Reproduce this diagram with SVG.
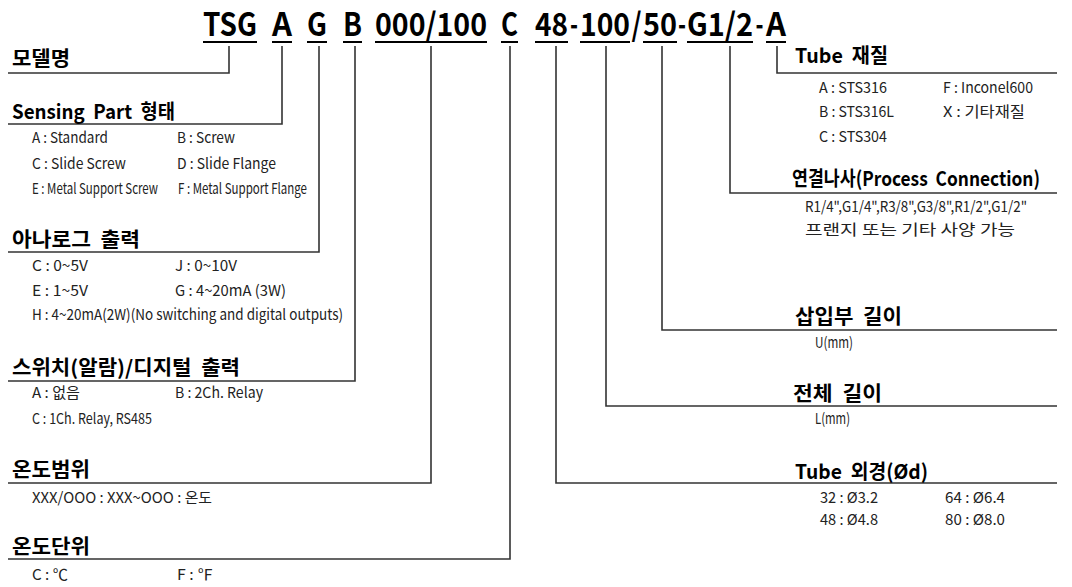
<svg xmlns="http://www.w3.org/2000/svg" width="1072" height="587" viewBox="0 0 1072 587" xml:space="preserve">
<style>
.t{font-family:"Noto Sans CJK KR","Noto Sans",sans-serif;font-weight:bold;font-size:32px;fill:#000}
.m{text-anchor:middle}
.h{font-family:"Noto Sans CJK KR","Noto Sans",sans-serif;font-weight:bold;font-size:20px;fill:#000;white-space:pre}
.i{font-family:"Noto Sans CJK KR","Noto Sans",sans-serif;font-size:15px;fill:#222}
.u{stroke:#000;stroke-width:2;fill:none}
.c{stroke:#333;stroke-width:1.6;fill:none}
</style>
<rect width="1072" height="587" fill="#fff"/>
<g id="code">
<text class="t" x="203" y="36" textLength="54" lengthAdjust="spacingAndGlyphs">TSG</text>
<text class="t" x="272" y="36" textLength="20" lengthAdjust="spacingAndGlyphs">A</text>
<text class="t" x="307" y="36" textLength="20" lengthAdjust="spacingAndGlyphs">G</text>
<text class="t" x="343" y="36" textLength="19" lengthAdjust="spacingAndGlyphs">B</text>
<text class="t" x="375" y="36" textLength="112" lengthAdjust="spacingAndGlyphs">000/100</text>
<text class="t" x="501" y="36" textLength="17" lengthAdjust="spacingAndGlyphs">C</text>
<text class="t" x="535" y="36" textLength="33" lengthAdjust="spacingAndGlyphs">48</text>
<text class="t" x="570" y="36" textLength="8" lengthAdjust="spacingAndGlyphs">-</text>
<text class="t" x="580" y="36" textLength="50" lengthAdjust="spacingAndGlyphs">100</text>
<text class="t" x="631.5" y="36" textLength="10" lengthAdjust="spacingAndGlyphs">/</text>
<text class="t" x="643" y="36" textLength="34" lengthAdjust="spacingAndGlyphs">50</text>
<text class="t" x="678" y="36" textLength="8" lengthAdjust="spacingAndGlyphs">-</text>
<text class="t" x="687" y="36" textLength="66" lengthAdjust="spacingAndGlyphs">G1/2</text>
<text class="t" x="755.5" y="36" textLength="8" lengthAdjust="spacingAndGlyphs">-</text>
<text class="t" x="766" y="36" textLength="20" lengthAdjust="spacingAndGlyphs">A</text>
<path class="u" d="M203 42H257M272 42H292M307 42H327M343 42H362M375 42H487M501 42H518M535 42H568M580 42H630M643 42H677M687 42H753M766 42H786"/>
</g>
<g id="connectors">
<path class="c" d="M229 46V73H8"/>
<path class="c" d="M282 46V124H8"/>
<path class="c" d="M319 46V252H8"/>
<path class="c" d="M355 46V381H8"/>
<path class="c" d="M431 46V483H8"/>
<path class="c" d="M510 46V559H8"/>
<path class="c" d="M556 46V483H1057"/>
<path class="c" d="M606 46V406H1057"/>
<path class="c" d="M662 46V330H1057"/>
<path class="c" d="M730 46V193H1057"/>
<path class="c" d="M777 46V73H1057"/>
</g>
<g id="model-name">
<text class="h" x="12" y="66" textLength="58" lengthAdjust="spacingAndGlyphs">모델명</text>
</g>
<g id="sensing-part">
<text class="h" x="12" y="119" textLength="163" lengthAdjust="spacingAndGlyphs">Sensing  Part  형태</text>
<text class="i" x="32" y="143" textLength="76" lengthAdjust="spacingAndGlyphs">A : Standard</text>
<text class="i" x="177" y="143" textLength="58" lengthAdjust="spacingAndGlyphs">B : Screw</text>
<text class="i" x="32" y="169" textLength="94" lengthAdjust="spacingAndGlyphs">C : Slide Screw</text>
<text class="i" x="177" y="169" textLength="99" lengthAdjust="spacingAndGlyphs">D : Slide Flange</text>
<text class="i" x="32" y="194" textLength="126" lengthAdjust="spacingAndGlyphs" font-size="14">E : Metal Support Screw</text>
<text class="i" x="178" y="194" textLength="129" lengthAdjust="spacingAndGlyphs" font-size="14">F : Metal Support Flange</text>
</g>
<g id="analog-output">
<text class="h" x="12" y="247" textLength="128" lengthAdjust="spacingAndGlyphs">아나로그  출력</text>
<text class="i" x="32" y="271" textLength="56" lengthAdjust="spacingAndGlyphs">C : 0~5V</text>
<text class="i" x="175" y="271" textLength="62" lengthAdjust="spacingAndGlyphs">J : 0~10V</text>
<text class="i" x="32" y="296" textLength="56" lengthAdjust="spacingAndGlyphs">E : 1~5V</text>
<text class="i" x="175" y="296" textLength="111" lengthAdjust="spacingAndGlyphs">G : 4~20mA (3W)</text>
<text class="i" x="32" y="320" textLength="311" lengthAdjust="spacingAndGlyphs">H : 4~20mA(2W)(No switching and digital outputs)</text>
</g>
<g id="switch-output">
<text class="h" x="12" y="375" textLength="228" lengthAdjust="spacingAndGlyphs">스위치(알람)/디지털  출력</text>
<text class="i" x="32" y="398" textLength="48" lengthAdjust="spacingAndGlyphs">A : 없음</text>
<text class="i" x="175" y="398" textLength="88" lengthAdjust="spacingAndGlyphs">B : 2Ch. Relay</text>
<text class="i" x="32" y="424" textLength="120" lengthAdjust="spacingAndGlyphs">C : 1Ch. Relay, RS485</text>
</g>
<g id="temp-range">
<text class="h" x="12" y="477" textLength="78" lengthAdjust="spacingAndGlyphs">온도범위</text>
<text class="i" x="32" y="503" textLength="180" lengthAdjust="spacingAndGlyphs">XXX/OOO : XXX~OOO : 온도</text>
</g>
<g id="temp-unit">
<text class="h" x="12" y="554" textLength="78" lengthAdjust="spacingAndGlyphs">온도단위</text>
<text class="i" x="32" y="580" textLength="36" lengthAdjust="spacingAndGlyphs">C : ℃</text>
<text class="i" x="177" y="580" textLength="36" lengthAdjust="spacingAndGlyphs">F : ℉</text>
</g>
<g id="tube-material">
<text class="h" x="795" y="63" textLength="93" lengthAdjust="spacingAndGlyphs">Tube  재질</text>
<text class="i" x="819" y="93" textLength="68" lengthAdjust="spacingAndGlyphs">A : STS316</text>
<text class="i" x="943" y="93" textLength="90" lengthAdjust="spacingAndGlyphs">F : Inconel600</text>
<text class="i" x="819" y="117" textLength="75" lengthAdjust="spacingAndGlyphs">B : STS316L</text>
<text class="i" x="943" y="117" textLength="82" lengthAdjust="spacingAndGlyphs">X : 기타재질</text>
<text class="i" x="819" y="142" textLength="68" lengthAdjust="spacingAndGlyphs">C : STS304</text>
</g>
<g id="process-connection">
<text class="h" x="792" y="186" textLength="248" lengthAdjust="spacingAndGlyphs">연결나사(Process  Connection)</text>
<text class="i" x="805" y="212" textLength="222" lengthAdjust="spacingAndGlyphs">R1/4",G1/4",R3/8",G3/8",R1/2",G1/2"</text>
<text class="i" x="805" y="235" textLength="210" lengthAdjust="spacingAndGlyphs">프랜지 또는 기타 사양 가능</text>
</g>
<g id="insertion-length">
<text class="h" x="795" y="324" textLength="107" lengthAdjust="spacingAndGlyphs">삽입부  길이</text>
<text class="i" x="815" y="348" textLength="38" lengthAdjust="spacingAndGlyphs">U(mm)</text>
</g>
<g id="total-length">
<text class="h" x="793" y="401" textLength="89" lengthAdjust="spacingAndGlyphs">전체  길이</text>
<text class="i" x="815" y="424" textLength="35" lengthAdjust="spacingAndGlyphs">L(mm)</text>
</g>
<g id="tube-diameter">
<text class="h" x="795" y="479" textLength="133" lengthAdjust="spacingAndGlyphs">Tube  외경(Ød)</text>
<text class="i" x="820" y="503" textLength="58" lengthAdjust="spacingAndGlyphs">32 : Ø3.2</text>
<text class="i" x="945" y="503" textLength="60" lengthAdjust="spacingAndGlyphs">64 : Ø6.4</text>
<text class="i" x="820" y="525" textLength="58" lengthAdjust="spacingAndGlyphs">48 : Ø4.8</text>
<text class="i" x="945" y="525" textLength="60" lengthAdjust="spacingAndGlyphs">80 : Ø8.0</text>
</g>
</svg>
